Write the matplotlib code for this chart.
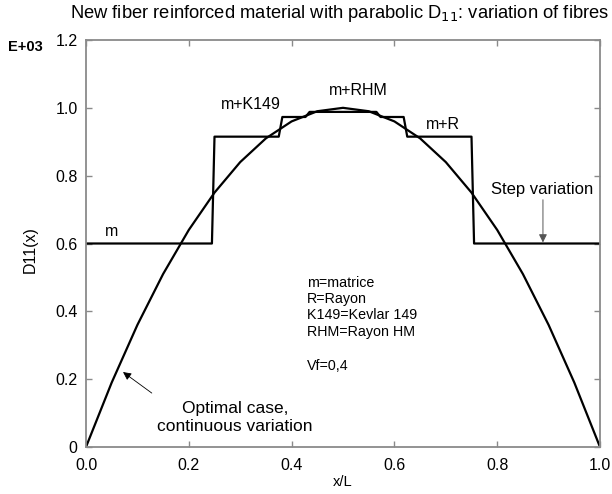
import matplotlib
matplotlib.use("Agg")
import matplotlib.pyplot as plt

plt.rcParams['font.family'] = ['Liberation Sans', 'DejaVu Sans']

# Optimal (continuous) stiffness distribution, read at x/L steps of 0.05
x_opt = [0.00, 0.05, 0.10, 0.15, 0.20, 0.25, 0.30, 0.35, 0.40, 0.45, 0.50,
         0.55, 0.60, 0.65, 0.70, 0.75, 0.80, 0.85, 0.90, 0.95, 1.00]
d_opt = [0.00, 0.19, 0.36, 0.51, 0.64, 0.75, 0.84, 0.91, 0.96, 0.99, 1.00,
         0.99, 0.96, 0.91, 0.84, 0.75, 0.64, 0.51, 0.36, 0.19, 0.00]

# Step (piecewise) distribution: m, m+R, m+K149, m+RHM, m+K149, m+R, m
x_step = [0.000, 0.245, 0.250, 0.375, 0.382, 0.427, 0.435,
          0.565, 0.573, 0.618, 0.625, 0.750, 0.755, 1.000]
d_step = [0.600, 0.600, 0.915, 0.915, 0.973, 0.973, 0.988,
          0.988, 0.973, 0.973, 0.915, 0.915, 0.600, 0.600]

x_ticks = [0.0, 0.2, 0.4, 0.6, 0.8, 1.0]
x_tick_labels = ["0.0", "0.2", "0.4", "0.6", "0.8", "1.0"]
y_ticks = [0.0, 0.2, 0.4, 0.6, 0.8, 1.0, 1.2]
y_tick_labels = ["0", "0.2", "0.4", "0.6", "0.8", "1.0", "1.2"]

legend_lines = ["m=matrice", "R=Rayon", "K149=Kevlar 149", "RHM=Rayon HM"]

fig = plt.figure(figsize=(6.12, 4.94), dpi=100)
ax = fig.add_axes([86 / 612, 1 - 447 / 494, 514 / 612, 407 / 494])

ax.plot(x_opt, d_opt, color="black", lw=1.6)
ax.plot(x_step, d_step, color="black", lw=1.6)

ax.set_xlim(0, 1)
ax.set_ylim(0, 1.2)
ax.set_xticks(x_ticks)
ax.set_xticklabels(x_tick_labels)
ax.set_yticks(y_ticks)
ax.set_yticklabels(y_tick_labels)
ax.tick_params(direction="in", length=4, width=1, color="#8a8a8a",
               top=True, right=True, labelsize=11.5)
ax.tick_params(axis="x", pad=8)
ax.tick_params(axis="y", pad=6)
for s in ax.spines.values():
    s.set_color("#8a8a8a")
    s.set_linewidth(1.3)

fig.text(340 / 612, 1 - 14 / 494,
         r"New fiber reinforced material with parabolic D$_{11}$: variation of fibres",
         ha="center", va="center", fontsize=13.2)
fig.text(8 / 612, 1 - 47 / 494, "E+03", fontsize=10.5, weight="bold",
         ha="left", va="center")
fig.text(30 / 612, 1 - 250 / 494, "D11(x)", rotation=90, fontsize=11.5,
         ha="center", va="center")
fig.text((86 + 257) / 612, 1 - 482 / 494, "x/L", fontsize=10.5,
         ha="center", va="center")

# Segment labels
ax.text(0.05, 0.635, "m", fontsize=11.5, ha="center", va="center")
ax.text(0.32, 1.01, "m+K149", fontsize=11.5, ha="center", va="center")
ax.text(0.53, 1.05, "m+RHM", fontsize=11.5, ha="center", va="center")
ax.text(0.695, 0.95, "m+R", fontsize=11.5, ha="center", va="center")

# Material key
for i, line in enumerate(legend_lines):
    ax.text(0.43, 0.484 - i * 0.048, line, fontsize=10.3, ha="left", va="center")
ax.text(0.43, 0.239, "Vf=0,4", fontsize=10.3, ha="left", va="center")

# Annotations
ax.text(0.29, 0.087, "Optimal case,\ncontinuous variation", fontsize=12.5,
        ha="center", va="center", linespacing=1.25)
ax.annotate("", xy=(0.072, 0.221), xytext=(0.128, 0.159),
            arrowprops=dict(arrowstyle="-|>", color="black", lw=0.6,
                            mutation_scale=12, shrinkA=0, shrinkB=0))
ax.text(0.887, 0.758, "Step variation", fontsize=12, ha="center", va="center")
ax.annotate("", xy=(0.889, 0.603), xytext=(0.889, 0.729),
            arrowprops=dict(arrowstyle="-|>", color="#555555", lw=0.7,
                            mutation_scale=12, shrinkA=0, shrinkB=0))

fig.savefig("out.png", dpi=100)
